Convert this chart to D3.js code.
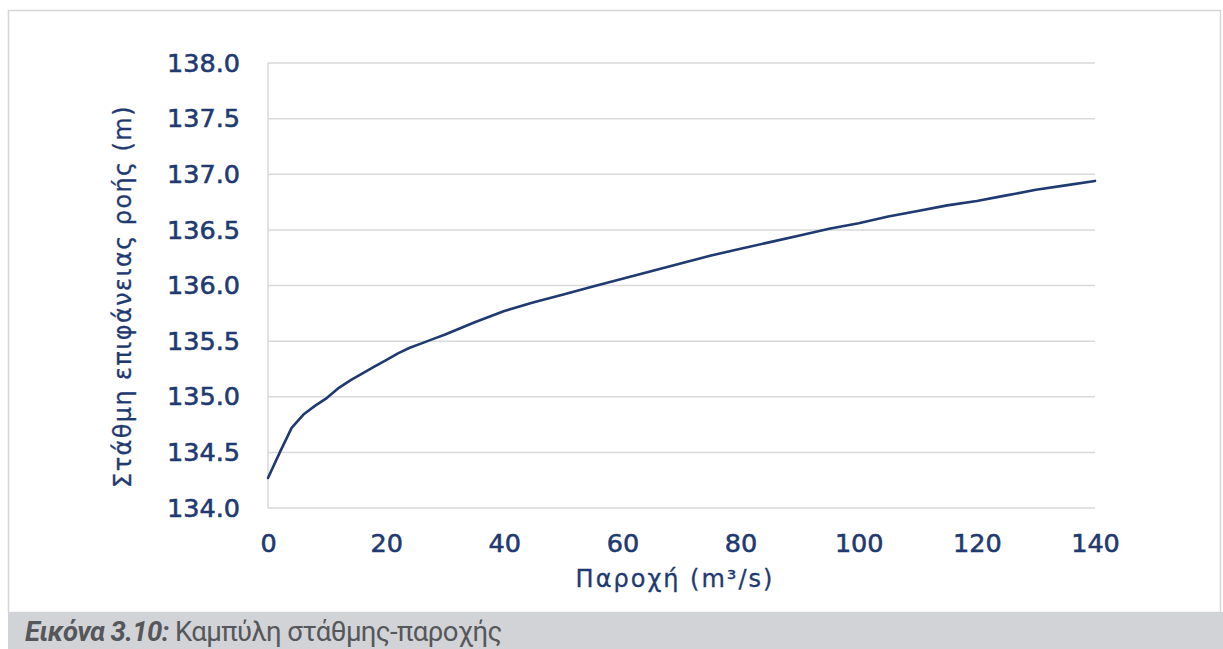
<!DOCTYPE html>
<html>
<head>
<meta charset="utf-8">
<script src="https://cdn.jsdelivr.net/npm/d3@7"></script>
<style>
  html, body { margin: 0; padding: 0; background: #ffffff; }
  svg { display: block; }
  .tick text, .axis-title { font-family: "DejaVu Sans", "Noto Sans", sans-serif; }
  .caption { font-family: Roboto, "Noto Sans", sans-serif; }
</style>
</head>
<body>
<svg id="chart" width="1223" height="649"></svg>
<script>
// Rating curve: discharge (m3/s) against water surface elevation (m)
const discharge = [0, 2, 4, 6, 8, 10, 12, 14, 16, 18, 20, 22, 24, 26, 28, 30,
  35, 40, 45, 50, 55, 60, 65, 70, 75, 80, 85, 90, 95, 100, 105, 110, 115, 120,
  125, 130, 135, 140];
const stage = [134.27, 134.50, 134.72, 134.84, 134.92, 134.99, 135.08, 135.15,
  135.21, 135.27, 135.33, 135.39, 135.44, 135.48, 135.52, 135.56, 135.67,
  135.77, 135.85, 135.92, 135.99, 136.06, 136.13, 136.20, 136.27, 136.33,
  136.39, 136.45, 136.51, 136.56, 136.62, 136.67, 136.72, 136.76, 136.81,
  136.86, 136.90, 136.94];
const xTicks = [0, 20, 40, 60, 80, 100, 120, 140];
const yTicks = [134.0, 134.5, 135.0, 135.5, 136.0, 136.5, 137.0, 137.5, 138.0];

const xTitle = "Παροχή (m³/s)";
const yTitle = "Στάθμη επιφάνειας ροής (m)";
const captionLead = "Εικόνα 3.10:";
const captionText = " Καμπύλη στάθμης-παροχής";

const navy = "#1f3a70";
const gridColor = "#d9d9d9";

const svg = d3.select("#chart");
const W = 1223, H = 649;

// Figure frame and caption band
svg.append("rect")
  .attr("x", 8.5).attr("y", 10.5)
  .attr("width", 1212).attr("height", 602)
  .attr("fill", "#ffffff")
  .attr("stroke", "#d6d6d6").attr("stroke-width", 1.5);

svg.append("rect")
  .attr("x", 8).attr("y", 612)
  .attr("width", W - 8).attr("height", H - 612)
  .attr("fill", "#d1d3d6");

const caption = svg.append("text")
  .attr("class", "caption")
  .attr("x", 25).attr("y", 641)
  .attr("font-size", 27.5)
  .attr("letter-spacing", -0.6)
  .attr("fill", "#55575a");
caption.append("tspan")
  .attr("font-weight", "bold").attr("font-style", "italic")
  .text(captionLead);
caption.append("tspan").text(captionText);

// Plot area
const plot = { left: 268, right: 1095, top: 63, bottom: 508 };

const x = d3.scaleLinear().domain([0, 140]).range([plot.left, plot.right]);
const y = d3.scaleLinear().domain([134, 138]).range([plot.bottom, plot.top]);

// Horizontal gridlines
svg.append("g")
  .selectAll("line")
  .data(yTicks)
  .join("line")
  .attr("x1", plot.left).attr("x2", plot.right)
  .attr("y1", d => y(d)).attr("y2", d => y(d))
  .attr("stroke", gridColor).attr("stroke-width", 1.5);

// Vertical axis line
svg.append("line")
  .attr("x1", plot.left).attr("x2", plot.left)
  .attr("y1", plot.top).attr("y2", plot.bottom)
  .attr("stroke", gridColor).attr("stroke-width", 1.5);

// Medium-weight navy label styling (regular face with a thin outline)
function styleLabels(sel) {
  sel.attr("font-size", 25.5)
    .attr("fill", navy)
    .attr("stroke", navy)
    .attr("stroke-width", 0.6);
}

// Y axis tick labels
const yAxis = d3.axisLeft(y).tickValues(yTicks).tickFormat(d3.format(".1f"))
  .tickSize(0).tickPadding(28);
const gy = svg.append("g").attr("transform", `translate(${plot.left},0)`).call(yAxis);
gy.attr("font-family", null);
gy.select(".domain").remove();
styleLabels(gy.selectAll("text"));

// X axis tick labels
const xAxis = d3.axisBottom(x).tickValues(xTicks).tickFormat(d3.format("d"))
  .tickSize(0).tickPadding(26);
const gx = svg.append("g").attr("transform", `translate(0,${plot.bottom})`).call(xAxis);
gx.attr("font-family", null);
gx.select(".domain").remove();
styleLabels(gx.selectAll("text"));

// Axis titles
svg.append("text")
  .attr("class", "axis-title")
  .attr("x", 675).attr("y", 587)
  .attr("text-anchor", "middle")
  .attr("font-size", 24)
  .attr("letter-spacing", 2.0)
  .attr("fill", navy)
  .attr("stroke", navy).attr("stroke-width", 0.3)
  .text(xTitle);

svg.append("text")
  .attr("class", "axis-title")
  .attr("transform", `translate(131,${(103 + 490) / 2}) rotate(-90)`)
  .attr("text-anchor", "middle")
  .attr("font-size", 24)
  .attr("letter-spacing", 1.4)
  .attr("fill", navy)
  .attr("stroke", navy).attr("stroke-width", 0.3)
  .text(yTitle);

// Rating curve
const points = discharge.map((q, i) => [q, stage[i]]);
svg.append("path")
  .datum(points)
  .attr("fill", "none")
  .attr("stroke", navy)
  .attr("stroke-width", 2.6)
  .attr("stroke-linejoin", "round")
  .attr("stroke-linecap", "round")
  .attr("d", d3.line().x(d => x(d[0])).y(d => y(d[1])));
</script>
</body>
</html>
